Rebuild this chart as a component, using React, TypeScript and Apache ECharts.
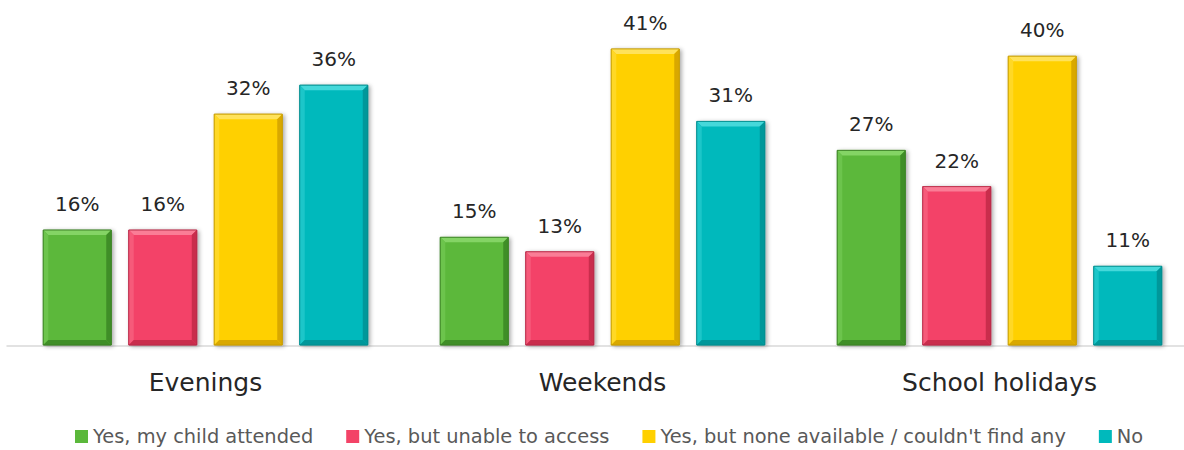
import React, { useEffect, useRef } from "react";
import * as echarts from "echarts";

const categories = ["Evenings", "Weekends", "School holidays"];
const seriesNames = [
  "Yes, my child attended",
  "Yes, but unable to access",
  "Yes, but none available / couldn't find any",
  "No",
];
const attended = [16, 15, 27];
const unable = [16, 13, 22];
const noneAvailable = [32, 41, 40];
const noValues = [36, 31, 11];
const seriesValues = [attended, unable, noneAvailable, noValues];

const palette = [
  { face: "#5BB83B", light: "#84D465", side: "#6CC44C", dark: "#3F8E27", edge: "#3A7F24" },
  { face: "#F34367", light: "#FA7D96", side: "#F65A7A", dark: "#C92D4C", edge: "#B52A46" },
  { face: "#FFD000", light: "#FFE25A", side: "#FFD826", dark: "#D9A800", edge: "#C49A00" },
  { face: "#00B9BC", light: "#45D8DA", side: "#1CC6C9", dark: "#00979A", edge: "#008A8C" },
];

export default function App() {
  const ref = useRef<HTMLDivElement>(null);

  useEffect(() => {
    if (!ref.current) return;
    const chart = echarts.init(ref.current, undefined, { renderer: "svg" });

    const makeRender = (idx: number) => (params: any, api: any) => {
      const cat = api.value(0);
      const val = api.value(1);
      const base = api.coord([cat, 0]);
      const top = api.coord([cat, val]);
      const catW = api.size([1, 0])[0];
      const barW = (catW * 68) / 397;
      const step = (catW * 85.5) / 397;
      const cx = base[0] + (idx - 1.5) * step;
      const x0 = cx - barW / 2;
      const x1 = cx + barW / 2;
      const y0 = top[1];
      const y1 = base[1] - 1;
      const b = 5;
      const c = palette[idx];
      return {
        type: "group",
        children: [
          {
            type: "rect",
            shape: { x: x0, y: y0, width: barW, height: y1 - y0 },
            style: {
              fill: c.face,
              stroke: c.edge,
              lineWidth: 0.8,
              shadowBlur: 4,
              shadowColor: "rgba(0,0,0,0.35)",
              shadowOffsetX: 2,
              shadowOffsetY: 1,
            },
          },
          {
            type: "polygon",
            shape: { points: [[x0, y0], [x1, y0], [x1 - b, y0 + b], [x0 + b, y0 + b]] },
            style: { fill: c.light },
          },
          {
            type: "polygon",
            shape: { points: [[x0, y0], [x0 + b, y0 + b], [x0 + b, y1 - b], [x0, y1]] },
            style: { fill: c.side },
          },
          {
            type: "polygon",
            shape: { points: [[x1, y0], [x1, y1], [x1 - b, y1 - b], [x1 - b, y0 + b]] },
            style: { fill: c.dark },
          },
          {
            type: "polygon",
            shape: { points: [[x0, y1], [x1, y1], [x1 - b, y1 - b], [x0 + b, y1 - b]] },
            style: { fill: c.dark },
          },
          {
            type: "rect",
            shape: { x: x0, y: y0, width: barW, height: y1 - y0 },
            style: { fill: "none", stroke: c.edge, lineWidth: 0.8 },
          },
          {
            type: "text",
            style: {
              text: val + "%",
              x: cx,
              y: y0 - 26,
              align: "center",
              verticalAlign: "middle",
              fontFamily: "DejaVu Sans",
              fontSize: 20,
              fill: "#262626",
            },
          },
        ],
      };
    };

    chart.setOption({
      animation: false,
      grid: { left: 7, width: 1191, top: 20, bottom: 104, containLabel: false },
      legend: {
        data: seriesNames,
        left: 75,
        top: 427,
        icon: "rect",
        itemWidth: 13,
        itemHeight: 13,
        itemGap: 33,
        padding: 0,
        textStyle: { fontFamily: "DejaVu Sans", fontSize: 19.4, color: "#595959" },
      },
      xAxis: {
        type: "category",
        data: categories,
        axisLine: { show: true, lineStyle: { color: "#D9D9D9", width: 1.5 } },
        axisTick: { show: false },
        axisLabel: {
          margin: 24,
          fontFamily: "DejaVu Sans",
          fontSize: 25,
          color: "#262626",
        },
      },
      yAxis: {
        type: "value",
        min: 0,
        max: 45,
        show: false,
        splitLine: { show: false },
      },
      series: seriesValues.map((vals, i) => ({
        type: "custom",
        name: seriesNames[i],
        itemStyle: { color: palette[i].face },
        encode: { x: 0, y: 1 },
        data: vals.map((v, k) => [k, v]),
        renderItem: makeRender(i),
      })),
    });

    return () => chart.dispose();
  }, []);

  return (
    <div
      ref={ref}
      style={{ position: "fixed", left: 0, top: 0, width: 1200, height: 450, background: "#fff" }}
    />
  );
}
